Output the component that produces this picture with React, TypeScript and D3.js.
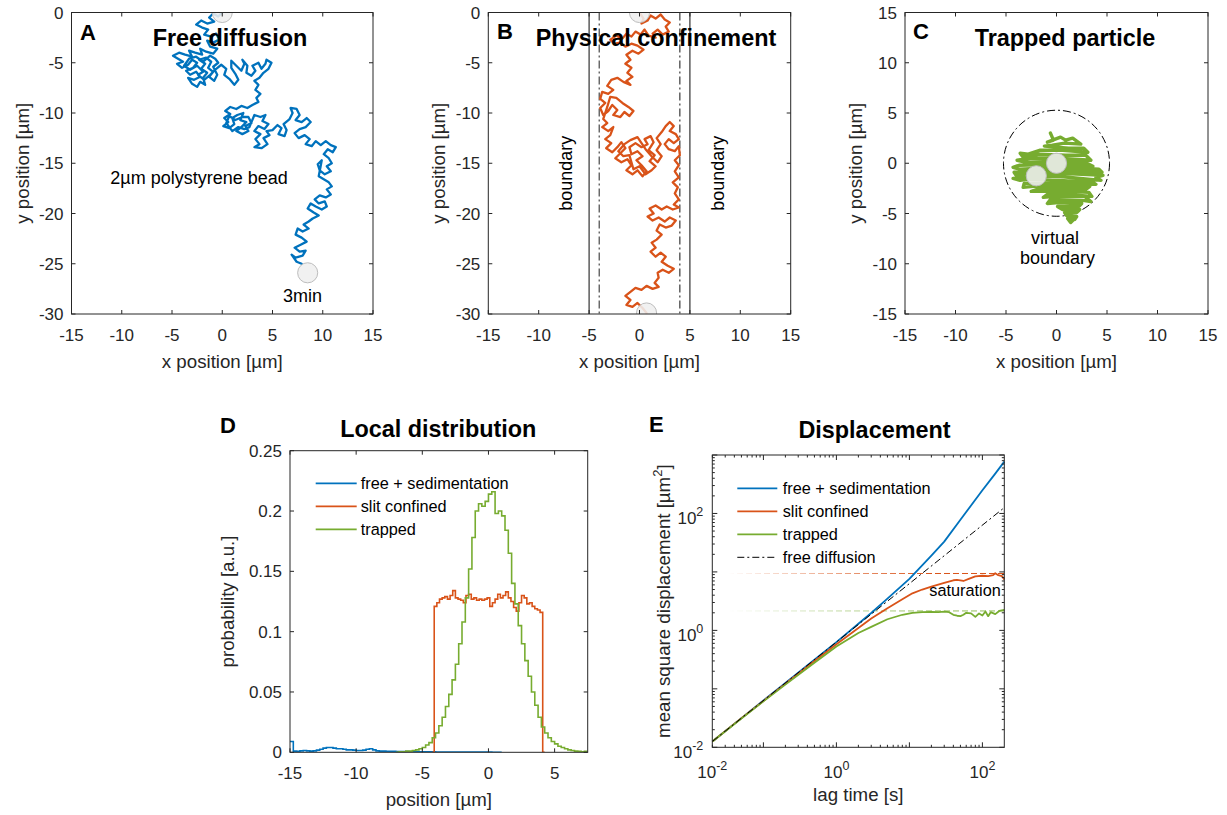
import React from "react";
import * as d3 from "d3";

const FONT = "'Liberation Sans', Arial, Helvetica, sans-serif";
const AXIS = "#262626";
const BLUE = "#0072BD";
const ORANGE = "#D95319";
const GREEN = "#77AC30";

const TICK_FS = 17;
const LABEL_FS = 18.7;
const TITLE_FS = 23.4;
const LEGEND_FS = 16.3;

// ---------- tick values ----------
const X_POS_TICKS = [-15, -10, -5, 0, 5, 10, 15];
const Y_FREE_TICKS = [-30, -25, -20, -15, -10, -5, 0];
const Y_TRAP_TICKS = [-15, -10, -5, 0, 5, 10, 15];
const D_X_TICKS = [-15, -10, -5, 0, 5];
const D_Y_TICKS = [0, 0.05, 0.1, 0.15, 0.2, 0.25];
const E_X_LABELS = [-2, 0, 2];
const E_Y_LABELS = [-2, 0, 2];

// ---------- trajectories [x µm, y µm] ----------
const TRACK_FREE: [number, number][] = [
  [0, 0], [-0.4, -0.4], [-0.9, -0.1], [-1.3, -0.5], [-0.8, -0.9], [-1.5, -1.1], [-2.1, -0.8], [-2.6, -1.2],
  [-2.0, -1.5], [-1.4, -1.7], [-1.8, -2.2], [-1.1, -2.4], [-0.6, -2.1], [-0.3, -2.7], [-0.9, -3.0],
  [-1.5, -2.8], [-1.2, -3.4], [-0.5, -3.6], [-0.9, -4.1], [-1.6, -3.9], [-2.2, -3.6], [-2.0, -4.2],
  [-2.7, -4.0], [-3.3, -3.8], [-3.0, -4.4], [-3.7, -4.2], [-4.3, -4.0], [-4.9, -4.3], [-4.4, -4.6],
  [-3.9, -4.9], [-4.5, -5.1], [-4.0, -5.5], [-3.4, -5.2], [-3.0, -4.7], [-2.5, -5.0], [-2.9, -5.5],
  [-3.6, -5.8], [-3.2, -6.2], [-2.6, -5.9], [-2.2, -6.4], [-2.8, -6.7], [-3.4, -6.5], [-3.0, -7.1],
  [-2.5, -7.4], [-2.2, -6.9], [-1.7, -7.2], [-1.9, -6.5], [-1.5, -6.0], [-2.1, -5.6], [-1.7, -5.1],
  [-2.3, -4.7], [-1.6, -4.5], [-1.1, -4.9], [-1.4, -5.5], [-0.9, -5.9], [-1.3, -6.4], [-0.8, -6.8],
  [-0.5, -6.2], [-0.9, -5.4], [-0.4, -5.0], [-0.7, -4.6], [-1.2, -4.3], [-1.9, -4.9], [-2.6, -4.4],
  [-3.3, -4.6], [-3.8, -5.3], [-3.2, -5.7], [-2.5, -5.3], [-1.9, -5.9], [-2.4, -6.2], [-1.8, -6.7],
  [-1.2, -6.2], [-0.6, -5.6], [-0.1, -5.2], [0.4, -5.6], [0.2, -6.2],
  [0.7, -6.6], [1.2, -7.2], [1.6, -6.7], [1.3, -6.1], [0.9, -5.5], [0.9, -4.8], [1.4, -5.3], [1.9, -5.8],
  [2.2, -5.1], [2.0, -4.7], [2.5, -5.3], [2.4, -6.0], [2.9, -6.3], [3.3, -5.8], [3.0, -5.3], [3.6, -5.0],
  [3.9, -5.6], [4.3, -5.1], [4.4, -4.7], [4.9, -5.0], [4.6, -5.6], [4.1, -6.0], [3.7, -6.5], [3.2, -6.8],
  [3.6, -7.2], [3.3, -7.7], [3.8, -8.1], [3.4, -8.5], [3.6, -8.9], [3.0, -9.2], [2.5, -9.5], [1.9, -9.3],
  [1.4, -9.6], [0.8, -9.4], [0.3, -9.8], [0.8, -10.1], [0.2, -10.5], [0.6, -10.9], [0.1, -11.3],
  [0.7, -11.5], [1.2, -11.1], [1.0, -10.5], [1.5, -10.2], [2.1, -10.0], [1.8, -10.7], [2.4, -10.9],
  [1.9, -11.4], [1.4, -11.8], [2.0, -12.1], [2.6, -11.8], [2.3, -11.3], [2.9, -11.0], [2.6, -10.4],
  [2.0, -10.4], [1.3, -10.7], [0.7, -10.3], [0.4, -11.0], [1.0, -11.8], [1.6, -11.4], [2.2, -11.6],
  [2.7, -11.4],
  [3.2, -10.2], [3.8, -10.4], [4.3, -10.2], [4.0, -10.8], [4.6, -11.1], [4.2, -11.6], [3.6, -11.3],
  [3.2, -11.8], [3.8, -12.1], [3.3, -12.6], [3.7, -13.1], [3.2, -13.4], [3.9, -13.5], [4.5, -13.1],
  [4.1, -12.5], [4.7, -12.2], [4.4, -11.8], [5.0, -11.7], [5.5, -11.2], [5.9, -11.5], [5.6, -12.1],
  [6.2, -12.3], [6.4, -11.7], [6.1, -11.1], [6.7, -10.6], [7.0, -10.0], [6.8, -9.5], [7.4, -9.6],
  [7.7, -10.2], [7.3, -10.7], [7.9, -10.9], [8.4, -10.5], [8.8, -10.9], [8.3, -11.4], [7.7, -11.6],
  [7.2, -12.0], [7.6, -12.5], [8.2, -12.2], [8.7, -12.6], [8.3, -13.1], [8.9, -13.3], [9.3, -12.8],
  [9.8, -13.2], [10.3, -12.8], [10.8, -13.2], [11.3, -13.4], [11.0, -13.9], [10.5, -13.6], [10.1, -14.1],
  [10.6, -14.5], [10.9, -15.0], [10.4, -15.3], [10.8, -15.8], [10.2, -16.1], [9.7, -15.7], [9.5, -15.1],
  [9.9, -14.7], [9.6, -16.3], [10.1, -16.6], [10.6, -16.9], [10.9, -17.3], [10.4, -17.6], [10.8, -18.1],
  [10.3, -18.4], [9.7, -18.2], [9.2, -18.6], [9.6, -19.0], [10.2, -18.8], [10.4, -19.3], [9.9, -19.6],
  [9.3, -19.3], [8.8, -19.0], [8.5, -19.5], [9.1, -19.9], [9.6, -20.2], [9.0, -20.5], [8.6, -20.8],
  [8.1, -21.1], [8.6, -21.5], [8.0, -21.8], [7.5, -21.5], [7.3, -22.1], [7.9, -22.4], [8.4, -22.8],
  [7.8, -23.1], [7.2, -23.4], [7.7, -23.8], [8.3, -23.7], [8.0, -24.2], [7.3, -24.4], [6.9, -24.1],
  [7.4, -24.8], [7.9, -25.0],
];

const TRACK_SLIT: [number, number][] = [
  [0, 0], [0.4, -0.6], [0.2, -1.1], [0.8, -0.8], [1.1, -0.3], [1.6, -0.6], [2.1, -0.2], [2.5, -0.7],
  [3.0, -1.0], [2.6, -1.4], [2.9, -1.9], [2.3, -2.2], [1.8, -1.7], [1.3, -2.1], [1.6, -2.5], [0.9, -2.3],
  [0.5, -1.7], [0.1, -2.2], [-0.4, -1.9], [-0.8, -2.4], [-1.3, -2.1], [-1.7, -2.6], [-2.3, -2.3],
  [-2.9, -2.7], [-2.5, -3.1], [-1.9, -3.0], [-1.4, -3.4], [-0.8, -3.1], [-0.2, -3.3], [0.4, -3.7],
  [-0.1, -4.1], [-0.7, -3.8], [-1.3, -4.2], [-0.9, -4.7], [-1.4, -5.1], [-0.8, -5.5], [-1.2, -6.0],
  [-0.7, -6.4], [-1.3, -6.8], [-0.9, -7.2], [-1.6, -6.9], [-2.2, -6.5], [-2.8, -6.7], [-3.2, -7.3],
  [-2.6, -7.7], [-3.1, -8.1], [-3.7, -7.9], [-3.9, -8.6], [-3.4, -9.0], [-3.9, -9.5], [-3.6, -10.2],
  [-3.1, -9.8], [-2.7, -9.2], [-2.2, -9.7], [-2.6, -10.2], [-1.9, -10.4], [-1.5, -9.9], [-1.0, -10.3],
  [-0.6, -9.8], [-1.1, -9.4], [-1.7, -9.0], [-2.3, -8.5], [-2.9, -8.4], [-3.2, -9.4], [-3.6, -10.6],
  [-3.2, -11.0], [-3.7, -11.4], [-3.1, -11.8], [-2.6, -11.4], [-2.9, -12.2], [-3.4, -12.6],
  [-2.8, -13.0], [-3.3, -13.5], [-2.7, -13.9], [-2.2, -13.4], [-1.8, -12.9], [-1.4, -13.5],
  [-1.9, -14.0], [-2.4, -14.5], [-1.8, -14.9], [-1.2, -14.6], [-0.8, -15.2], [-1.3, -15.7],
  [-0.7, -16.1], [-0.2, -15.7], [0.3, -16.3], [0.7, -15.8], [0.2, -15.2], [-0.3, -14.7], [0.3, -14.3],
  [-0.2, -13.8], [-0.8, -14.1], [-1.0, -13.4], [-0.4, -13.0], [0.2, -13.4], [0.8, -13.1], [0.5, -12.6],
  [1.1, -12.3], [1.4, -12.9], [0.9, -13.7], [1.5, -14.2], [1.0, -14.8], [1.6, -15.3], [1.2, -15.7],
  [0.6, -16.1], [0.0, -15.3], [-0.6, -15.6], [-1.0, -14.2], [-1.6, -14.3], [-2.1, -13.8], [-1.5, -13.1],
  [-0.9, -12.7], [-0.2, -12.4], [0.6, -13.6], [1.2, -14.3],
  [1.8, -14.9], [2.2, -14.3], [1.7, -13.7], [2.1, -13.1], [1.7, -12.5], [2.2, -11.9], [2.6, -11.3],
  [3.0, -10.9], [3.4, -11.3], [3.0, -11.8], [3.6, -12.1], [3.9, -12.6], [3.4, -13.0], [2.9, -12.6],
  [2.5, -13.1], [2.9, -13.6], [3.5, -13.8], [3.9, -13.3], [4.0, -14.2], [3.5, -14.7], [3.9, -15.2],
  [3.5, -15.8], [3.9, -16.4], [3.3, -16.9], [3.8, -17.4], [3.5, -18.0], [3.9, -18.6], [3.4, -19.1],
  [3.9, -19.4], [3.3, -19.6], [2.7, -19.3], [2.2, -19.6], [1.6, -19.2], [1.0, -19.5], [1.4, -20.0],
  [0.8, -20.3], [1.3, -20.7], [1.9, -20.4], [2.5, -20.8], [3.0, -20.4], [3.6, -20.7], [3.2, -21.2],
  [2.6, -21.4], [2.0, -21.1], [1.7, -21.7], [2.2, -22.1], [1.7, -22.6], [1.2, -22.9], [1.6, -23.4],
  [1.1, -23.8], [1.6, -24.3], [2.1, -23.9], [2.6, -24.3], [2.2, -24.8], [2.8, -25.2], [3.4, -25.5],
  [2.9, -25.9], [2.3, -25.6], [1.8, -25.9], [1.9, -26.4], [1.5, -26.9], [1.9, -27.3], [1.3, -27.5],
  [0.7, -27.2], [0.2, -27.6], [-0.4, -27.4], [-0.9, -27.8], [-1.4, -28.2], [-0.9, -28.6], [-1.3, -29.1],
  [-0.7, -29.3], [-0.2, -28.9], [0.3, -29.4], [0.7, -29.9],
];

const TRACK_TRAP: [number, number][] = [
  [-0.6, 3.0], [-0.3, 2.3], [-0.9, 2.1], [0.4, 2.6], [0.9, 2.3], [1.6, 2.5], [2.4, 1.9], [0.8, 2.0],
  [-0.4, 1.8], [-1.2, 1.7], [1.2, 1.5], [2.7, 1.5], [3.1, 1.1], [0.6, 1.3], [-1.6, 1.3], [-2.8, 0.9],
  [-3.6, 1.0], [-3.3, 0.6], [-1.7, 0.9], [0.9, 0.8], [2.9, 0.8], [3.4, 0.3], [0.2, 0.5], [-2.6, 0.5],
  [-3.9, 0.3], [-3.0, 0.1], [0.4, 0.2], [3.0, 0.0], [3.6, -0.3], [0.0, -0.1], [-3.7, -0.2], [-4.3, -0.4],
  [-3.6, -0.6], [0.5, -0.4], [4.2, -0.6], [4.5, -0.9], [0.2, -0.7], [-4.2, -0.9], [-4.0, -1.2],
  [0.4, -1.0], [4.6, -1.2], [3.9, -1.4], [4.4, -1.7], [0.1, -1.3], [-4.3, -1.5], [-3.6, -1.7],
  [-2.9, -1.6], [0.3, -1.7], [3.6, -1.9], [3.9, -2.1], [0.5, -2.0], [-3.2, -2.0], [-3.3, -2.4],
  [-2.3, -2.3], [0.4, -2.3], [3.3, -2.3], [2.9, -2.6], [0.6, -2.5], [-1.9, -2.6], [-2.5, -2.8],
  [-1.3, -2.8], [0.9, -2.8], [3.2, -2.9], [3.5, -3.3], [1.0, -3.1], [-0.9, -3.1], [-1.3, -3.4],
  [-0.2, -3.3], [2.8, -3.3], [3.4, -3.8], [2.6, -3.7], [-0.6, -3.6], [-0.9, -4.0], [0.2, -3.9],
  [2.5, -4.0], [2.2, -4.3], [0.1, -4.3], [0.6, -4.6], [2.3, -4.6], [2.0, -4.9], [0.8, -4.9], [1.0, -5.2],
  [2.0, -5.3], [1.8, -5.6], [1.1, -5.5], [1.4, -5.9], [1.6, -5.7],
];

const BEADS_FREE: [number, number][] = [[0, 0], [8.5, -25.9]];
const BEADS_SLIT: [number, number][] = [[0, 0], [0.7, -29.9]];
const BEADS_TRAP: [number, number][] = [[-2, -1.25], [0, 0]];
const BEAD_R = 1;
const SLIT_WALLS = [-5, 5];
const SLIT_REACH = [-4, 4];
const TRAP_RADIUS = 5.25;

// ---------- local distribution histograms ----------
const BIN_FREE = 0.25;
const FREE_START = -15;
const FREE_PROB = [
  0.009, 0.001, 0.0008, 0.0012, 0.0015, 0.0012, 0.001, 0.0012, 0.0018, 0.0025, 0.0035, 0.004, 0.004,
  0.0035, 0.003, 0.003, 0.0025, 0.002, 0.002, 0.0018, 0.0015, 0.0015, 0.0018, 0.0025, 0.003, 0.002,
  0.0012, 0.001, 0.001, 0.0009, 0.0008, 0.0008, 0.0007, 0.0007, 0.0006, 0.0006, 0.0005, 0.0005,
  0.0005, 0.0005, 0.0004, 0.0004, 0.0004, 0.0004, 0.0003, 0.0003, 0.0003, 0.0003, 0.0003, 0.0003,
  0.0003, 0.0003, 0.0003, 0.0002, 0.0002, 0.0002, 0.0002, 0.0002, 0.0002, 0.0002, 0.0002, 0.0001,
  0.0001, 0.0001,
];
const BIN_SLIT = 0.2;
const SLIT_START = -4.1;
const SLIT_PROB = [
  0.121, 0.124, 0.127, 0.128, 0.129, 0.127, 0.13, 0.134, 0.128, 0.127, 0.126, 0.124, 0.13, 0.131,
  0.127, 0.128, 0.126, 0.127, 0.126, 0.127, 0.128, 0.121, 0.124, 0.127, 0.131, 0.128, 0.13, 0.133,
  0.128, 0.125, 0.12, 0.117, 0.124, 0.13, 0.128, 0.123, 0.124, 0.121, 0.119, 0.118, 0.116,
];
const BIN_TRAP = 0.25;
const TRAP_START = -7;
const TRAP_PROB = [
  0.0, 0.0005, 0.0005, 0.001, 0.001, 0.0015, 0.002, 0.003, 0.004, 0.006, 0.008, 0.012, 0.016, 0.022,
  0.029, 0.038, 0.048, 0.06, 0.073, 0.09, 0.108, 0.128, 0.152, 0.178, 0.2, 0.206, 0.204, 0.208,
  0.214, 0.216, 0.198, 0.2, 0.196, 0.184, 0.165, 0.14, 0.123, 0.105, 0.09, 0.076, 0.063, 0.05, 0.039,
  0.029, 0.021, 0.016, 0.012, 0.009, 0.007, 0.005, 0.004, 0.003, 0.002, 0.0015, 0.001, 0.0008,
  0.0005, 0.0008,
];

// ---------- mean square displacement ----------
const LAG_FREE = [0.02, 0.05, 0.1, 0.2, 0.5, 1, 2, 3, 5, 10, 20, 30, 50, 100, 150, 200];
const MSD_FREE = [0.0126, 0.0315, 0.063, 0.126, 0.315, 0.63, 1.3, 1.98, 3.5, 7.6, 19, 33, 78, 250, 480, 770];
const LAG_SLIT = [0.02, 0.05, 0.1, 0.2, 0.5, 1, 2, 3, 5, 8, 11, 15, 20, 30, 40, 45, 55, 65, 80, 100, 120, 140, 150, 165, 185, 200];
const MSD_SLIT = [0.0126, 0.0315, 0.062, 0.123, 0.3, 0.58, 1.1, 1.6, 2.4, 3.4, 4.3, 5.0, 5.6, 6.5, 7.2, 7.3, 7.0, 7.6, 8.4, 8.6, 8.5, 8.8, 9.5, 8.8, 8.5, 7.4];
const LAG_TRAP = [0.02, 0.05, 0.1, 0.2, 0.5, 1, 2, 3, 5, 8, 11, 15, 20, 25, 30, 35, 40, 45, 50, 55, 60, 70, 80, 90, 100, 110, 120, 130, 150, 170, 200];
const MSD_TRAP = [0.0126, 0.031, 0.061, 0.118, 0.28, 0.53, 0.9, 1.15, 1.55, 1.85, 2.0, 2.05, 2.08, 2.05, 2.1, 2.05, 1.85, 1.78, 1.75, 1.85, 2.0, 1.95, 1.7, 1.95, 1.8, 2.1, 1.75, 2.05, 1.9, 2.15, 2.25];
const LAG_FIT = [0.02, 200];
const MSD_FIT = [0.0126, 126];
const SAT_SLIT = 9.4;
const SAT_TRAP = 2.15;

// ---------- layout ----------
type Box = { l: number; r: number; t: number; b: number };
const BOX_A: Box = { l: 71.5, r: 373, t: 12.5, b: 314 };
const BOX_B: Box = { l: 488.3, r: 790.7, t: 12.5, b: 314 };
const BOX_C: Box = { l: 905, r: 1208, t: 12.5, b: 314 };
const BOX_D: Box = { l: 290, r: 587.7, t: 450.7, b: 752.3 };
const BOX_E: Box = { l: 712.3, r: 1004.3, t: 455, b: 747.3 };

const signed = (v: number) => (v < 0 ? "-" + String(Math.abs(v)) : String(v));

function LinearFrame({ box, xs, ys, xTicks, yTicks, fmtY = signed, tl = 4 }: any) {
  return (
    <g fontFamily={FONT} fontSize={TICK_FS} fill={AXIS}>
      {xTicks.map((t: number) => (
        <g key={"x" + t}>
          <line x1={xs(t)} x2={xs(t)} y1={box.b} y2={box.b - tl} stroke={AXIS} />
          <line x1={xs(t)} x2={xs(t)} y1={box.t} y2={box.t + tl} stroke={AXIS} />
          <text x={xs(t)} y={box.b + 27} textAnchor="middle">{signed(t)}</text>
        </g>
      ))}
      {yTicks.map((t: number) => (
        <g key={"y" + t}>
          <line x1={box.l} x2={box.l + tl} y1={ys(t)} y2={ys(t)} stroke={AXIS} />
          <line x1={box.r} x2={box.r - tl} y1={ys(t)} y2={ys(t)} stroke={AXIS} />
          <text x={box.l - 8} y={ys(t) + 6} textAnchor="end">{fmtY(t)}</text>
        </g>
      ))}
      <rect x={box.l} y={box.t} width={box.r - box.l} height={box.b - box.t} fill="none" stroke={AXIS} strokeWidth={1} />
    </g>
  );
}

function AxisLabels({ box, xLabel, yLabel, yOff }: any) {
  const cx = (box.l + box.r) / 2;
  const cy = (box.t + box.b) / 2;
  return (
    <g fontFamily={FONT} fontSize={LABEL_FS} fill={AXIS}>
      <text x={cx} y={box.b + 54} textAnchor="middle">{xLabel}</text>
      <text transform={`translate(${box.l - yOff},${cy}) rotate(-90)`} textAnchor="middle">{yLabel}</text>
    </g>
  );
}

function Heading({ x, y, text, letter, lx, ly }: any) {
  return (
    <g fontFamily={FONT} fontWeight="bold" fill="#000">
      <text x={x} y={y} textAnchor="middle" fontSize={TITLE_FS}>{text}</text>
      <text x={lx} y={ly} fontSize={22}>{letter}</text>
    </g>
  );
}

function Beads({ xs, ys, beads }: any) {
  const r = xs(BEAD_R) - xs(0);
  return (
    <g>
      {beads.map((b: [number, number], i: number) => (
        <circle key={i} cx={xs(b[0])} cy={ys(b[1])} r={r} fill="#efefef" fillOpacity={0.88} stroke="#bdbdbd" strokeWidth={1} />
      ))}
    </g>
  );
}

function TrackPanel({ id, box, yDomain, yTicks, track, color, beads, width, children }: any) {
  const xs = d3.scaleLinear().domain([-15, 15]).range([box.l, box.r]);
  const ys = d3.scaleLinear().domain(yDomain).range([box.b, box.t]);
  const line = d3.line<[number, number]>().x((d) => xs(d[0])).y((d) => ys(d[1]));
  return (
    <g>
      <clipPath id={id}>
        <rect x={box.l} y={box.t} width={box.r - box.l} height={box.b - box.t} />
      </clipPath>
      <g clipPath={`url(#${id})`}>
        {children && children(xs, ys)}
        <path d={line(track) || ""} fill="none" stroke={color} strokeWidth={width} strokeLinejoin="round" strokeLinecap="round" />
        <Beads xs={xs} ys={ys} beads={beads} />
      </g>
      <LinearFrame box={box} xs={xs} ys={ys} xTicks={X_POS_TICKS} yTicks={yTicks} />
    </g>
  );
}

function stairs(start: number, bin: number, probs: number[], leadZero: number, tailZero: number) {
  const pts: [number, number][] = [];
  if (leadZero > 0) pts.push([start - leadZero, 0]);
  probs.forEach((p, i) => pts.push([start + i * bin, p]));
  const end = start + probs.length * bin;
  pts.push([end, probs[probs.length - 1]]);
  if (tailZero > 0) {
    pts.push([end, 0]);
    pts.push([end + tailZero, 0]);
  }
  return pts;
}

function DistributionPanel() {
  const box = BOX_D;
  const xs = d3.scaleLinear().domain([-15, 7.5]).range([box.l, box.r]);
  const ys = d3.scaleLinear().domain([0, 0.25]).range([box.b, box.t]);
  const line = d3.line<[number, number]>().x((d) => xs(d[0])).y((d) => ys(d[1])).curve(d3.curveStepAfter);
  const series = [
    { name: "free + sedimentation", color: BLUE, pts: stairs(FREE_START, BIN_FREE, FREE_PROB, 0, 0) },
    { name: "slit confined", color: ORANGE, pts: stairs(SLIT_START, BIN_SLIT, SLIT_PROB, 0.15, 0.15) },
    { name: "trapped", color: GREEN, pts: stairs(TRAP_START, BIN_TRAP, TRAP_PROB, 0, 0) },
  ];
  return (
    <g>
      <clipPath id="clipD">
        <rect x={box.l} y={box.t} width={box.r - box.l} height={box.b - box.t} />
      </clipPath>
      <g clipPath="url(#clipD)">
        {series.map((s) => (
          <path key={s.name} d={line(s.pts) || ""} fill="none" stroke={s.color} strokeWidth={1.6} />
        ))}
      </g>
      <LinearFrame box={box} xs={xs} ys={ys} xTicks={D_X_TICKS} yTicks={D_Y_TICKS} fmtY={(v: number) => String(+v.toFixed(2))} />
      <g fontFamily={FONT} fontSize={LEGEND_FS} fill="#000">
        {series.map((s, i) => (
          <g key={s.name}>
            <line x1={315.7} x2={356.7} y1={483.3 + i * 23} y2={483.3 + i * 23} stroke={s.color} strokeWidth={1.8} />
            <text x={360.7} y={483.3 + i * 23 + 6}>{s.name}</text>
          </g>
        ))}
      </g>
      <AxisLabels box={box} xLabel="position [µm]" yLabel="probability [a.u.]" yOff={56} />
      <Heading x={438.3} y={437} text="Local distribution" letter="D" lx={220} ly={433} />
    </g>
  );
}

function Pow10({ x, y, e, anchor }: any) {
  return (
    <text x={x} y={y} textAnchor={anchor}>
      10<tspan dy={-8} fontSize={12.5}>{signed(e)}</tspan>
    </text>
  );
}

function DisplacementPanel() {
  const box = BOX_E;
  const xs = d3.scaleLog().domain([10 ** -1.7, 10 ** 2.3]).range([box.l, box.r]).clamp(true);
  const ys = d3.scaleLog().domain([1e-2, 1e3]).range([box.b, box.t]);
  const line = d3.line<[number, number]>().x((d) => xs(d[0])).y((d) => ys(d[1]));
  const zip = (a: number[], b: number[]) => a.map((v, i) => [v, b[i]] as [number, number]);
  const curves = [
    { name: "free + sedimentation", color: BLUE, pts: zip(LAG_FREE, MSD_FREE), dash: undefined, w: 1.8 },
    { name: "slit confined", color: ORANGE, pts: zip(LAG_SLIT, MSD_SLIT), dash: undefined, w: 1.8 },
    { name: "trapped", color: GREEN, pts: zip(LAG_TRAP, MSD_TRAP), dash: undefined, w: 1.8 },
    { name: "free diffusion", color: "#000", pts: zip(LAG_FIT, MSD_FIT), dash: "7,3,2,3", w: 1 },
  ];
  const [dx0, dx1] = xs.domain();
  const xMinor: { v: number; major: boolean }[] = [];
  for (let e = -2; e <= 2; e++) {
    for (let k = 1; k <= 9; k++) {
      const v = k * 10 ** e;
      if (v >= dx0 && v <= dx1) xMinor.push({ v, major: k === 1 });
    }
  }
  const yMinor: { v: number; major: boolean }[] = [];
  for (let e = -2; e <= 3; e++) {
    for (let k = 1; k <= 9; k++) {
      const v = k * 10 ** e;
      if (v >= 1e-2 && v <= 1e3) yMinor.push({ v, major: k === 1 });
    }
  }
  return (
    <g>
      <defs>
        <linearGradient id="fadeSlit" gradientUnits="userSpaceOnUse" x1={728} x2={930} y1={0} y2={0}>
          <stop offset="0" stopColor={ORANGE} stopOpacity={0} />
          <stop offset="1" stopColor={ORANGE} stopOpacity={1} />
        </linearGradient>
        <linearGradient id="fadeTrap" gradientUnits="userSpaceOnUse" x1={728} x2={930} y1={0} y2={0}>
          <stop offset="0" stopColor={GREEN} stopOpacity={0} />
          <stop offset="1" stopColor={GREEN} stopOpacity={0.8} />
        </linearGradient>
      </defs>
      <line x1={728} x2={box.r} y1={ys(SAT_SLIT)} y2={ys(SAT_SLIT)} stroke="url(#fadeSlit)" strokeDasharray="6,3" strokeWidth={1} />
      <line x1={728} x2={box.r} y1={ys(SAT_TRAP)} y2={ys(SAT_TRAP)} stroke="url(#fadeTrap)" strokeDasharray="6,3" strokeWidth={1} />
      {curves.map((c) => (
        <path key={c.name} d={line(c.pts) || ""} fill="none" stroke={c.color} strokeWidth={c.w} strokeDasharray={c.dash} strokeLinejoin="round" />
      ))}
      <g stroke={AXIS}>
        {xMinor.map((t) => (
          <g key={"xm" + t.v}>
            <line x1={xs(t.v)} x2={xs(t.v)} y1={box.b} y2={box.b - (t.major ? 5 : 2.5)} />
            <line x1={xs(t.v)} x2={xs(t.v)} y1={box.t} y2={box.t + (t.major ? 5 : 2.5)} />
          </g>
        ))}
        {yMinor.map((t) => (
          <g key={"ym" + t.v}>
            <line x1={box.l} x2={box.l + (t.major ? 5 : 2.5)} y1={ys(t.v)} y2={ys(t.v)} />
            <line x1={box.r} x2={box.r - (t.major ? 5 : 2.5)} y1={ys(t.v)} y2={ys(t.v)} />
          </g>
        ))}
      </g>
      <rect x={box.l} y={box.t} width={box.r - box.l} height={box.b - box.t} fill="none" stroke={AXIS} />
      <g fontFamily={FONT} fontSize={TICK_FS} fill={AXIS}>
        {E_X_LABELS.map((e) => (
          <Pow10 key={"xl" + e} x={xs(10 ** e)} y={box.b + 31} e={e} anchor="middle" />
        ))}
        {E_Y_LABELS.map((e) => (
          <Pow10 key={"yl" + e} x={box.l - 9} y={ys(10 ** e) + 10.5} e={e} anchor="end" />
        ))}
      </g>
      <g fontFamily={FONT} fontSize={LEGEND_FS} fill="#000">
        {curves.map((c, i) => (
          <g key={c.name}>
            <line x1={737.3} x2={777.3} y1={488.3 + i * 23} y2={488.3 + i * 23} stroke={c.color} strokeWidth={c.w} strokeDasharray={c.dash} />
            <text x={782.7} y={488.3 + i * 23 + 6}>{c.name}</text>
          </g>
        ))}
        <text x={965} y={596} textAnchor="middle">saturation</text>
      </g>
      <g fontFamily={FONT} fontSize={LABEL_FS} fill={AXIS}>
        <text x={(box.l + box.r) / 2} y={box.b + 54} textAnchor="middle">lag time [s]</text>
        <text transform={`translate(${box.l - 42},${(box.t + box.b) / 2}) rotate(-90)`} textAnchor="middle">
          mean square displacement [µm<tspan dy={-8} fontSize={13}>2</tspan><tspan dy={8}>]</tspan>
        </text>
      </g>
      <Heading x={874.5} y={438} text="Displacement" letter="E" lx={649} ly={432} />
    </g>
  );
}

export default function App() {
  return (
    <svg width={1227} height={815} viewBox="0 0 1227 815" style={{ position: "absolute", left: 0, top: 0, display: "block", background: "#fff" }}>
      <rect x={0} y={0} width={1227} height={815} fill="#fff" />
      {/* A: free diffusion */}
      <TrackPanel id="clipA" box={BOX_A} yDomain={[-30, 0]} yTicks={Y_FREE_TICKS} track={TRACK_FREE} color={BLUE} beads={BEADS_FREE} width={2.3} />
      <AxisLabels box={BOX_A} xLabel="x position [µm]" yLabel="y position [µm]" yOff={43} />
      <g fontFamily={FONT} fontSize={18} fill="#000">
        <text x={199} y={184} textAnchor="middle">2µm polystyrene bead</text>
        <text x={302.5} y={302} textAnchor="middle">3min</text>
      </g>
      <Heading x={230} y={45.5} text="Free diffusion" letter="A" lx={80} ly={40} />

      {/* B: slit confinement */}
      <TrackPanel
        id="clipB" box={BOX_B} yDomain={[-30, 0]} yTicks={Y_FREE_TICKS} track={TRACK_SLIT} color={ORANGE} beads={BEADS_SLIT} width={2.3}
        children={(xs: any, ys: any) => (
          <g>
            {SLIT_WALLS.map((w) => (
              <line key={"w" + w} x1={xs(w)} x2={xs(w)} y1={ys(0)} y2={ys(-30)} stroke="#333" strokeWidth={1.2} />
            ))}
            {SLIT_REACH.map((w, i) => (
              <line key={"r" + w} x1={xs(w)} x2={xs(w)} y1={ys(0)} y2={ys(-30)} stroke={i === 0 ? "#222" : "#555"} strokeWidth={i === 0 ? 1 : 1.4} strokeDasharray="8,3,2,3" />
            ))}
          </g>
        )}
      />
      <AxisLabels box={BOX_B} xLabel="x position [µm]" yLabel="y position [µm]" yOff={43} />
      <g fontFamily={FONT} fontSize={18} fill="#000">
        <text transform="translate(572,173.3) rotate(-90)" textAnchor="middle">boundary</text>
        <text transform="translate(724,173.3) rotate(-90)" textAnchor="middle">boundary</text>
      </g>
      <Heading x={656} y={45.5} text="Physical confinement" letter="B" lx={497} ly={39} />

      {/* C: trapped particle */}
      <TrackPanel
        id="clipC" box={BOX_C} yDomain={[-15, 15]} yTicks={Y_TRAP_TICKS} track={TRACK_TRAP} color={GREEN} beads={BEADS_TRAP} width={3.4}
        children={(xs: any, ys: any) => (
          <circle cx={xs(0)} cy={ys(0)} r={xs(TRAP_RADIUS) - xs(0)} fill="none" stroke="#000" strokeWidth={1} strokeDasharray="8,3,2,3" />
        )}
      />
      <AxisLabels box={BOX_C} xLabel="x position [µm]" yLabel="y position [µm]" yOff={43} />
      <g fontFamily={FONT} fontSize={18} fill="#000">
        <text x={1055} y={244} textAnchor="middle">virtual</text>
        <text x={1057.5} y={264} textAnchor="middle">boundary</text>
      </g>
      <Heading x={1065} y={45.5} text="Trapped particle" letter="C" lx={913} ly={39} />

      <DistributionPanel />
      <DisplacementPanel />
    </svg>
  );
}
